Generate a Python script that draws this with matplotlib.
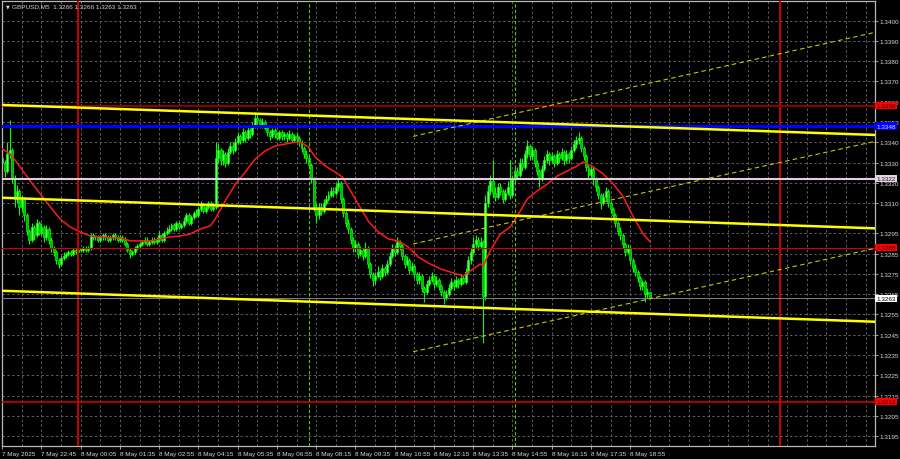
import matplotlib
matplotlib.use('Agg')
import numpy as np
import matplotlib.pyplot as plt

# Prices are stored as pips above BASE
BASE = 1.3200
PIP = 0.0001

title_text = "GBPUSD,M5  1.3266 1.3266 1.3263 1.3263"

first_open = 132
closes = [
    130, 126, 134, 136, 122, 112, 116, 108, 112, 104,
    96, 92, 98, 94, 100, 95, 98, 93, 97, 92,
    88, 86, 82, 80, 83, 84, 85, 86, 85, 87,
    86, 87, 87, 88, 87, 88, 94, 93, 93, 92,
    93, 94, 93, 92, 93, 94, 93, 92, 93, 92,
    90, 87, 85, 86, 88, 89, 90, 91, 92, 90,
    91, 92, 91, 92, 94, 92, 95, 96, 97, 99,
    97, 100, 98, 99, 101, 104, 100, 103, 105, 104,
    107, 109, 106, 108, 110, 107, 108, 132, 136, 131,
    134, 130, 135, 138, 136, 140, 143, 141, 145, 142,
    146, 144, 148, 152, 151, 149, 150, 147, 145, 143,
    146, 144, 142, 145, 143, 144, 142, 144, 141, 143,
    142, 140, 137, 134, 132, 129, 122, 108, 104, 108,
    106, 110, 112, 114, 116, 115, 118, 120, 112, 105,
    100, 97, 92, 88, 90, 85, 87, 84, 88, 80,
    75, 72, 74, 76, 74, 78, 76, 80, 84, 88,
    86, 91, 89, 84, 80, 82, 77, 79, 75, 72,
    74, 68, 66, 70, 72, 74, 70, 72, 69, 66,
    63, 65, 68, 71, 69, 72, 70, 73, 71, 76,
    82, 86, 90, 92, 89, 91, 64, 110, 116, 121,
    115, 113, 118, 116, 112, 115, 118, 114, 122, 126,
    124, 130, 128, 134, 138, 133, 136, 130, 126, 122,
    127, 131, 134, 131, 133, 130, 134, 132, 135, 131,
    134, 132, 136, 139, 141, 142, 137, 133, 128, 124,
    127, 122, 118, 114, 110, 113, 116, 110, 107, 104,
    100, 96, 94, 90, 86, 88, 82, 78, 76, 73,
    69, 71, 65, 66, 63,
]
highs = [
    134, 131, 140, 151, 137, 124, 119, 117, 114, 113,
    105, 97, 100, 99, 102, 101, 100, 99, 99, 98,
    93, 89, 87, 83, 84, 86, 86, 87, 87, 88,
    88, 88, 88, 89, 89, 89, 95, 95, 94, 94,
    94, 95, 95, 94, 94, 95, 95, 94, 94, 94,
    93, 91, 88, 87, 89, 90, 91, 92, 93, 93,
    92, 93, 93, 93, 96, 95, 96, 98, 99, 100,
    100, 101, 101, 100, 103, 105, 105, 104, 106, 107,
    108, 111, 110, 109, 111, 111, 110, 140, 139, 137,
    136, 135, 137, 140, 140, 142, 145, 144, 147, 146,
    148, 147, 150, 155, 154, 152, 152, 151, 148, 146,
    147, 147, 145, 146, 146, 145, 145, 146, 145, 144,
    145, 143, 141, 138, 136, 133, 130, 123, 110, 110,
    110, 112, 114, 116, 118, 118, 120, 122, 121, 113,
    106, 102, 98, 93, 92, 91, 89, 88, 91, 89,
    81, 76, 76, 79, 77, 80, 79, 82, 86, 90,
    89, 93, 92, 90, 85, 84, 83, 81, 80, 76,
    76, 75, 69, 72, 74, 76, 75, 74, 73, 70,
    67, 67, 70, 73, 72, 74, 73, 75, 74, 78,
    84, 88, 93, 94, 93, 93, 92, 114, 119, 124,
    131, 118, 120, 120, 117, 117, 121, 131, 124, 128,
    128, 132, 132, 136, 141, 139, 138, 137, 131, 127,
    129, 133, 136, 135, 135, 134, 136, 135, 137, 136,
    136, 135, 138, 141, 143, 145, 143, 138, 134, 129,
    129, 128, 123, 119, 115, 115, 118, 117, 111, 108,
    105, 101, 98, 95, 91, 90, 89, 83, 80, 77,
    74, 72, 72, 68, 66,
]
lows = [
    127, 123, 125, 132, 120, 108, 110, 104, 106, 101,
    94, 90, 91, 92, 93, 94, 94, 91, 92, 90,
    86, 84, 80, 78, 79, 82, 83, 84, 84, 84,
    85, 86, 86, 86, 86, 86, 87, 92, 92, 91,
    91, 92, 92, 91, 91, 92, 92, 91, 91, 91,
    89, 86, 83, 84, 85, 87, 88, 89, 90, 89,
    89, 90, 90, 90, 91, 91, 91, 94, 95, 96,
    96, 96, 97, 97, 98, 100, 99, 99, 102, 103,
    103, 106, 105, 105, 107, 106, 106, 107, 130, 129,
    129, 128, 129, 134, 134, 135, 139, 139, 140, 140,
    141, 142, 143, 147, 149, 147, 147, 146, 143, 141,
    142, 142, 141, 141, 141, 141, 140, 141, 140, 140,
    140, 138, 135, 132, 130, 127, 120, 106, 100, 102,
    104, 105, 109, 111, 113, 113, 114, 116, 110, 103,
    98, 95, 90, 86, 86, 83, 84, 82, 83, 78,
    73, 69, 70, 73, 72, 73, 74, 75, 79, 83,
    84, 85, 87, 82, 78, 79, 75, 76, 73, 70,
    70, 66, 61, 65, 69, 71, 68, 69, 67, 64,
    60, 62, 64, 67, 67, 68, 68, 69, 70, 70,
    75, 80, 85, 88, 87, 88, 41, 62, 108, 114,
    113, 111, 112, 114, 110, 111, 114, 112, 113, 120,
    122, 123, 126, 127, 132, 131, 131, 128, 124, 118,
    121, 126, 130, 129, 130, 128, 129, 130, 131, 129,
    130, 130, 131, 135, 137, 139, 135, 131, 126, 122,
    122, 119, 116, 112, 107, 109, 111, 108, 105, 102,
    98, 94, 92, 88, 84, 85, 80, 76, 74, 71,
    67, 67, 61, 63, 63,
]

# moving average (bar index, pips)
ma_bars = [0, 3.3, 7.3, 11.4, 15.5, 19.6, 23.6, 27.7, 31.8, 35.9, 40, 44, 48.1,
           52.2, 56.3, 60.3, 64.4, 68.5, 72.6, 76.6, 80.7, 84.8, 86.8, 90.9, 95,
           99.1, 103.1, 107.2, 111.3, 115.4, 119.4, 122.3, 124.7, 127.6, 131.7,
           135.7, 138.6, 141.1, 145.1, 149.2, 153.3, 157.4, 161.4, 165.5, 169.6,
           173.7, 178.6, 182.6, 187.9, 192, 194.9, 196.1, 198.9, 203, 207.1,
           211.2, 214, 218.1, 222.2, 226.3, 230.3, 234.4, 236.9, 240.9, 245,
           249.1, 253.2, 257.3, 261.3, 264.2]
ma_vals = [136.7, 134.2, 127.8, 120.9, 114.5, 108.1, 102.1, 98.2, 95.7, 93.7,
           93.3, 92.8, 92.8, 91.3, 91.3, 91.3, 92.3, 93.3, 93.7, 94.7, 97.2,
           98.7, 102.1, 111.0, 119.3, 125.3, 131.7, 135.7, 138.2, 139.1, 140.1,
           139.6, 137.7, 132.7, 128.3, 125.3, 122.9, 117.9, 109.5, 101.1, 95.7,
           92.3, 91.3, 88.3, 83.4, 80.4, 77.5, 76.0, 74.0, 77.5, 79.9, 78.9,
           86.4, 94.7, 98.2, 106.1, 112.0, 116.0, 119.4, 123.4, 125.8, 128.3,
           130.3, 127.8, 124.4, 119.4, 113.0, 103.1, 94.7, 90.8]

# trend channel (solid) : pips at bar 0 and bar 356
channel_ends = [0, 356]
chan_top = [158.4, 143.6]
chan_mid = [112.6, 97.5]
chan_bot = [66.7, 51.4]
# rising channel (dashed) : pips at bar 167.5 and bar 356
rise_ends = [167.5, 356]
rise_top = [142.9, 194.3]
rise_mid = [89.8, 140.5]
rise_bot = [36.6, 87.7]

# horizontal levels: price, line colour, width, tag colour, tag text colour
levels = [
    (1.3358, '#8B0000', 1.5, '#FF0000', '#3A0000'),
    (1.3348, '#0000FF', 2.2, '#0000FF', '#E0E0FF'),
    (1.3322, '#E2CCE2', 1.5, '#E6D2E6', '#202020'),
    (1.3288, '#D00000', 0.8, '#FF0000', '#3A0000'),
    (1.3263, '#808080', 0.7, '#FFFFFF', '#000000'),
    (1.3212, '#E00000', 1.1, '#FF0000', '#3A0000'),
]

red_vlines = [31, 317]
green_vlines = [125, 209]

x_label_bars = list(range(0, 257, 16))
x_labels = ["7 May 2025", "7 May 22:45", "8 May 00:05", "8 May 01:35",
            "8 May 02:55", "8 May 04:15", "8 May 05:35", "8 May 06:55",
            "8 May 08:15", "8 May 09:35", "8 May 10:55", "8 May 12:15",
            "8 May 13:35", "8 May 14:55", "8 May 16:15", "8 May 17:35",
            "8 May 18:55"]

y_ticks = [1.3400, 1.3390, 1.3380, 1.3370, 1.3360, 1.3350, 1.3340, 1.3330,
           1.3320, 1.3310, 1.3295, 1.3285, 1.3275, 1.3265, 1.3255, 1.3245,
           1.3235, 1.3225, 1.3215, 1.3205, 1.3195]


def px(p):
    return BASE + np.asarray(p, dtype=float) * PIP


fig = plt.figure(figsize=(9, 4.6), dpi=100, facecolor='black')
ax = fig.add_axes([2 / 900, 13 / 460, 873 / 900, 445 / 460])
ax.set_facecolor('black')
ax.set_xlim(-0.1, 355.8)
ax.set_ylim(1.319008, 1.340972)

grid_kw = dict(color='#5E5E5E', lw=0.7, ls=(0, (2.5, 2.5)), zorder=1)
for b in range(0, 357, 8):
    ax.axvline(b, **grid_kw)
for t in y_ticks:
    ax.axhline(t, **grid_kw)

# candles
c = px(closes)
o = px([first_open] + closes[:-1])
h = px(highs)
lo = px(lows)
x = np.arange(len(closes))
up = c >= o
ax.vlines(x, lo, h, color='#00FF00', lw=0.8, zorder=2)
body = np.maximum(np.abs(c - o), 0.3 * PIP)
ax.bar(x[up], body[up], bottom=np.minimum(o, c)[up], width=0.8,
       color='#66FF66', edgecolor='#00FF00', lw=0.5, zorder=2.1)
ax.bar(x[~up], body[~up], bottom=np.minimum(o, c)[~up], width=0.8,
       color='#00B400', edgecolor='#00FF00', lw=0.5, zorder=2.1)

# moving average
ax.plot(ma_bars, px(ma_vals), color='#FF1A1A', lw=1.1, zorder=3)

# vertical markers
for b in red_vlines:
    ax.axvline(b, color='#CC0000', lw=1.4, zorder=3)
for b in green_vlines:
    ax.axvline(b, color='#5CC800', lw=0.8, ls=(0, (3, 2)), zorder=3)

# horizontal levels
for price, col, w, _, _ in levels:
    ax.axhline(price, color=col, lw=w, zorder=3.2)

# channels
for ys in (chan_top, chan_mid, chan_bot):
    ax.plot(channel_ends, px(ys), color='#FFFF00', lw=1.8, zorder=3.4)
for ys in (rise_top, rise_mid, rise_bot):
    ax.plot(rise_ends, px(ys), color='#C8C800', lw=0.8, ls=(0, (4, 3)),
            zorder=3.3)

# axes styling
for s in ax.spines.values():
    s.set_color('#B8B8B8')
    s.set_linewidth(0.9)
ax.yaxis.tick_right()
ax.set_yticks(y_ticks)
ax.set_yticklabels([f"{t:.4f}" for t in y_ticks])
ax.tick_params(axis='y', colors='#B8B8B8', labelcolor='#D8D8D8',
               labelsize=4.6, length=2, width=0.6, pad=1.5)
ax.set_xticks(x_label_bars)
ax.set_xticklabels(x_labels, ha='left')
ax.tick_params(axis='x', colors='#B8B8B8', labelcolor='#D8D8D8',
               labelsize=4.6, length=2, width=0.6, pad=1.5)
for lab in ax.get_xticklabels() + ax.get_yticklabels():
    lab.set_fontfamily('Liberation Sans')

# price tags on the right edge
for price, _, _, tag, tcol in levels:
    ax.text(1.0015, price, f"{price:.4f}", transform=ax.get_yaxis_transform(),
            ha='left', va='center', fontsize=4.6, family='Liberation Sans',
            color=tcol, zorder=6, clip_on=False,
            bbox=dict(boxstyle='square,pad=0.18', fc=tag, ec='none'))

# symbol header
fig.text(6 / 900, 1 - 7 / 460, "\u25bc", fontsize=3.5, color='#D8D8D8',
         va='center', ha='left')
fig.text(12 / 900, 1 - 7 / 460, title_text, fontsize=4.6, color='#D8D8D8',
         va='center', ha='left', family='Liberation Sans')

fig.savefig('out.png', dpi=100, facecolor='black')
